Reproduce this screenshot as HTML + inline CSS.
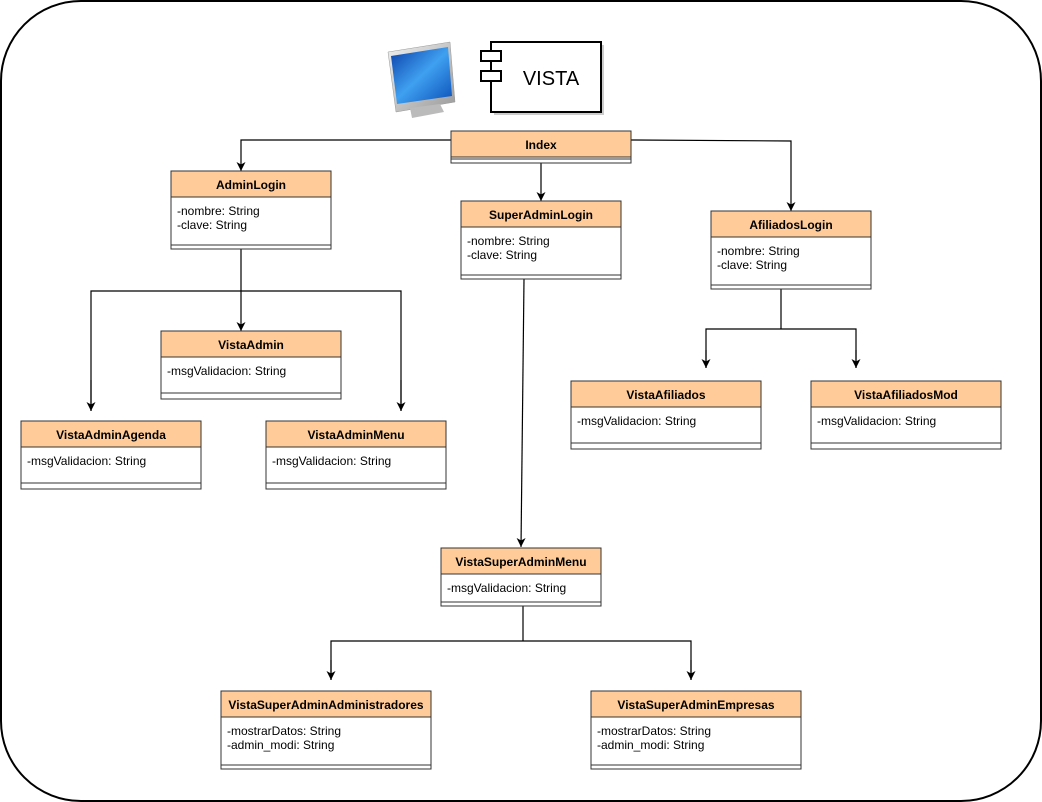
<!DOCTYPE html>
<html><head><meta charset="utf-8"><style>
html,body{margin:0;padding:0;background:#fff;}
svg{display:block;font-family:"Liberation Sans",Arial,sans-serif;}
.h{font-weight:bold;font-size:12px;fill:#000;}
.a{font-size:12px;fill:#000;}
</style></head><body>
<svg width="1042" height="802" viewBox="0 0 1042 802" xmlns="http://www.w3.org/2000/svg">
<defs>
<marker id="ar" markerWidth="10" markerHeight="10" refX="9" refY="5" orient="auto" markerUnits="userSpaceOnUse">
<path d="M0,0.5 L9,5 L0,9.5 L2.5,5 Z" fill="#000"/></marker>
<linearGradient id="scr" x1="0" y1="0" x2="1" y2="1"><stop offset="0" stop-color="#0a3ea8"/><stop offset="0.5" stop-color="#3fa0f0"/><stop offset="1" stop-color="#0b4fb8"/></linearGradient>
<linearGradient id="frm" x1="0" y1="0" x2="1" y2="1"><stop offset="0" stop-color="#f0f0f0"/><stop offset="1" stop-color="#9a9a9a"/></linearGradient>
</defs>
<rect x="1" y="1" width="1040" height="800" rx="80" ry="80" fill="#fff" stroke="#000" stroke-width="2"/>
<!-- monitor -->
<path d="M388,52 L450,42 L455,102 L396,112 Z" fill="url(#frm)" stroke="#999" stroke-width="0.5"/>
<path d="M391,56 L448,47 L452,96 L397,104 Z" fill="url(#scr)"/>
<path d="M410,108 L440,104 L444,112 L412,118 Z" fill="#bbb"/>
<!-- component -->
<rect x="494" y="45" width="110" height="70" fill="#ccc"/>
<rect x="491" y="42" width="110" height="70" fill="#fff" stroke="#000" stroke-width="2"/>
<rect x="481" y="51" width="20" height="10" fill="#fff" stroke="#000" stroke-width="2"/>
<rect x="481" y="71" width="20" height="10" fill="#fff" stroke="#000" stroke-width="2"/>
<text x="551" y="85" font-size="20" text-anchor="middle">VISTA</text>

<g stroke="#000" stroke-width="1.2" fill="none">
<polyline points="451,140 241,140 241,171" marker-end="url(#ar)"/>
<polyline points="631,140 791,141 791,211" marker-end="url(#ar)"/>
<line x1="541" y1="163" x2="541" y2="201" marker-end="url(#ar)"/>
<line x1="241" y1="249" x2="241" y2="331" marker-end="url(#ar)"/>
<polyline points="91,411 91,291 401,291 401,411" />
<line x1="91" y1="380" x2="91" y2="411" marker-end="url(#ar)"/>
<line x1="401" y1="380" x2="401" y2="411" marker-end="url(#ar)"/>
<line x1="524" y1="279" x2="521" y2="547" marker-end="url(#ar)"/>
<polyline points="781,289 781,329"/>
<polyline points="706,368 706,329 856,329 856,368"/>
<line x1="706" y1="350" x2="706" y2="368" marker-end="url(#ar)"/>
<line x1="856" y1="350" x2="856" y2="368" marker-end="url(#ar)"/>
<polyline points="523,606 523,641"/>
<polyline points="331,680 331,641 691,641 691,680"/>
<line x1="331" y1="660" x2="331" y2="680" marker-end="url(#ar)"/>
<line x1="691" y1="660" x2="691" y2="680" marker-end="url(#ar)"/>
</g>

<g stroke="#333" stroke-width="1">
<rect x="451" y="131" width="180" height="32" fill="#fff"/>
<rect x="451" y="131" width="180" height="26" fill="#ffcc99"/>
<line x1="451" y1="159" x2="631" y2="159"/>
<rect x="171" y="171" width="160" height="78" fill="#fff"/>
<rect x="171" y="171" width="160" height="26" fill="#ffcc99"/>
<line x1="171" y1="245" x2="331" y2="245"/>
<rect x="461" y="201" width="160" height="78" fill="#fff"/>
<rect x="461" y="201" width="160" height="26" fill="#ffcc99"/>
<line x1="461" y1="275" x2="621" y2="275"/>
<rect x="711" y="211" width="160" height="78" fill="#fff"/>
<rect x="711" y="211" width="160" height="26" fill="#ffcc99"/>
<line x1="711" y1="285" x2="871" y2="285"/>
<rect x="161" y="331" width="180" height="68" fill="#fff"/>
<rect x="161" y="331" width="180" height="26" fill="#ffcc99"/>
<line x1="161" y1="393" x2="341" y2="393"/>
<rect x="21" y="421" width="180" height="68" fill="#fff"/>
<rect x="21" y="421" width="180" height="26" fill="#ffcc99"/>
<line x1="21" y1="483" x2="201" y2="483"/>
<rect x="266" y="421" width="180" height="68" fill="#fff"/>
<rect x="266" y="421" width="180" height="26" fill="#ffcc99"/>
<line x1="266" y1="483" x2="446" y2="483"/>
<rect x="571" y="381" width="190" height="68" fill="#fff"/>
<rect x="571" y="381" width="190" height="26" fill="#ffcc99"/>
<line x1="571" y1="443" x2="761" y2="443"/>
<rect x="811" y="381" width="190" height="68" fill="#fff"/>
<rect x="811" y="381" width="190" height="26" fill="#ffcc99"/>
<line x1="811" y1="443" x2="1001" y2="443"/>
<rect x="441" y="548" width="160" height="58" fill="#fff"/>
<rect x="441" y="548" width="160" height="26" fill="#ffcc99"/>
<line x1="441" y1="602" x2="601" y2="602"/>
<rect x="221" y="691" width="210" height="78" fill="#fff"/>
<rect x="221" y="691" width="210" height="26" fill="#ffcc99"/>
<line x1="221" y1="765" x2="431" y2="765"/>
<rect x="591" y="691" width="210" height="78" fill="#fff"/>
<rect x="591" y="691" width="210" height="26" fill="#ffcc99"/>
<line x1="591" y1="765" x2="801" y2="765"/>
</g>

<g text-anchor="middle" class="h">
<text class="h" x="541" y="149">Index</text>
<text class="h" x="251" y="189">AdminLogin</text>
<text class="h" x="541" y="219">SuperAdminLogin</text>
<text class="h" x="791" y="229">AfiliadosLogin</text>
<text class="h" x="251" y="349">VistaAdmin</text>
<text class="h" x="111" y="439">VistaAdminAgenda</text>
<text class="h" x="356" y="439">VistaAdminMenu</text>
<text class="h" x="666" y="399">VistaAfiliados</text>
<text class="h" x="906" y="399">VistaAfiliadosMod</text>
<text class="h" x="521" y="566">VistaSuperAdminMenu</text>
<text class="h" x="326" y="709">VistaSuperAdminAdministradores</text>
<text class="h" x="696" y="709">VistaSuperAdminEmpresas</text>
</g>
<g class="a">
<text class="a" x="177" y="215">-nombre: String</text>
<text class="a" x="177" y="229">-clave: String</text>
<text class="a" x="467" y="245">-nombre: String</text>
<text class="a" x="467" y="259">-clave: String</text>
<text class="a" x="717" y="255">-nombre: String</text>
<text class="a" x="717" y="269">-clave: String</text>
<text class="a" x="167" y="375">-msgValidacion: String</text>
<text class="a" x="27" y="465">-msgValidacion: String</text>
<text class="a" x="272" y="465">-msgValidacion: String</text>
<text class="a" x="577" y="425">-msgValidacion: String</text>
<text class="a" x="817" y="425">-msgValidacion: String</text>
<text class="a" x="447" y="592">-msgValidacion: String</text>
<text class="a" x="227" y="735">-mostrarDatos: String</text>
<text class="a" x="227" y="749">-admin_modi: String</text>
<text class="a" x="597" y="735">-mostrarDatos: String</text>
<text class="a" x="597" y="749">-admin_modi: String</text>
</g>
</svg>
</body></html>
